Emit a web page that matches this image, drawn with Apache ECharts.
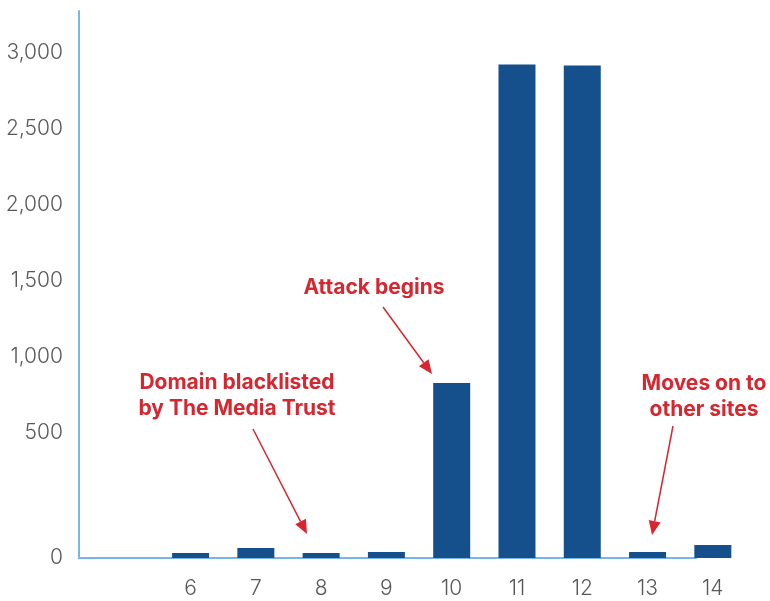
<!DOCTYPE html>
<html>
<head>
<meta charset="utf-8">
<style>
  html, body { margin: 0; padding: 0; background: #fff; }
  #chart { width: 770px; height: 601px; }
</style>
<script src="https://cdn.jsdelivr.net/npm/echarts@6/dist/echarts.min.js"></script>
</head>
<body>
<div id="chart"></div>
<script>
// weeks and counts
const weeks = [6, 7, 8, 9, 10, 11, 12, 13, 14];
const counts = [20, 40, 20, 24, 829, 2925, 2918, 24, 52];
const yTicks = [0, 500, 1000, 1500, 2000, 2500, 3000];

const red = "#d6262f";
const blue = "#15508d";
const axisBlue = "#78b6e6";
const labelFont = { color: "#595959", fontFamily: "Inter", fontWeight: 300, fontSize: 21 };

// the source axis gives the 0-500 step more room than the others
const LOW = 500;
const LOW_SPAN = 822;
const toAxis = (v) => (v <= LOW ? (v * LOW_SPAN) / LOW : v + LOW_SPAN - LOW);
const fromAxis = (d) => (d <= LOW_SPAN ? (d * LOW) / LOW_SPAN : d - LOW_SPAN + LOW);

const X_MIN = 4.291;
const Y_MAX = 3599;

const arrow = (x1, y1, x2, y2) => {
  const a = Math.atan2(y2 - y1, x2 - x1);
  const len = 14;
  const half = 6;
  const bx = x2 - len * Math.cos(a);
  const by = y2 - len * Math.sin(a);
  return [
    {
      type: "line",
      shape: { x1, y1, x2: bx, y2: by },
      style: { stroke: red, lineWidth: 1.5 },
    },
    {
      type: "polygon",
      shape: {
        points: [
          [x2, y2],
          [bx + half * Math.sin(a), by - half * Math.cos(a)],
          [bx - half * Math.sin(a), by + half * Math.cos(a)],
        ],
      },
      style: { fill: red },
    },
  ];
};

const note = (x, y, text) => ({
  type: "text",
  x,
  y,
  style: {
    text,
    fill: red,
    font: "bold 21px Inter",
    align: "center",
    verticalAlign: "middle",
    lineHeight: 26,
  },
});

const chart = echarts.init(document.getElementById("chart"));

chart.setOption({
  animation: false,
  // grid 0 carries the axis lines (the base line stops before the last bar),
  // grid 1 carries the bars and the week labels with the same scale
  grid: [
    { left: 79, right: 74, top: 11, bottom: 43 },
    { left: 79, right: 18, top: 11, bottom: 43 },
  ],
  xAxis: [
    {
      type: "value",
      gridIndex: 0,
      min: X_MIN,
      max: 13.74,
      splitLine: { show: false },
      axisTick: { show: false },
      axisLabel: { show: false },
      axisLine: { show: true, lineStyle: { color: axisBlue, width: 2 } },
    },
    {
      type: "value",
      gridIndex: 1,
      min: X_MIN,
      max: 14.6,
      splitLine: { show: false },
      axisLine: { show: false },
      axisTick: { show: false },
      axisLabel: { customValues: weeks, margin: 20, ...labelFont },
    },
  ],
  yAxis: [
    {
      type: "value",
      gridIndex: 0,
      min: 0,
      max: Y_MAX,
      splitLine: { show: false },
      axisTick: { show: false },
      axisLine: { show: true, lineStyle: { color: axisBlue, width: 2 } },
      axisLabel: {
        customValues: yTicks.map(toAxis),
        formatter: (d) => Math.round(fromAxis(d)).toLocaleString("en-US"),
        margin: 16,
        ...labelFont,
      },
    },
    {
      type: "value",
      gridIndex: 1,
      min: 0,
      max: Y_MAX,
      show: false,
    },
  ],
  series: [
    {
      type: "bar",
      xAxisIndex: 1,
      yAxisIndex: 1,
      barWidth: 37,
      clip: false,
      itemStyle: { color: blue },
      data: weeks.map((w, i) => [w, toAxis(counts[i])]),
    },
  ],
  graphic: [
    note(374, 288, "Attack begins"),
    note(237, 396, "Domain blacklisted\nby The Media Trust"),
    note(704, 397, "Moves on to\nother sites"),
    ...arrow(383, 307, 432, 374),
    ...arrow(253, 429, 307, 534),
    ...arrow(673, 426, 652, 535),
  ],
});
</script>
</body>
</html>
